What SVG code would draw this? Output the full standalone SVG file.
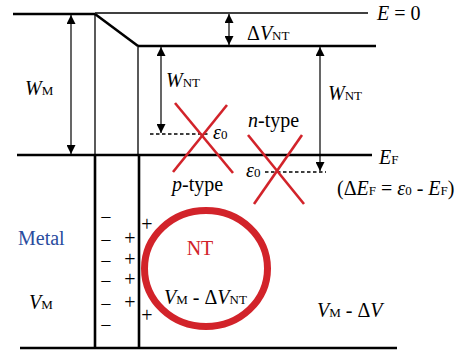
<svg xmlns="http://www.w3.org/2000/svg" width="468" height="353" viewBox="0 0 468 353">
<defs>
<marker id="ahL" viewBox="0 0 10 10" refX="10" refY="5" markerWidth="12" markerHeight="9" markerUnits="userSpaceOnUse" orient="auto-start-reverse">
<path d="M0,0 L10,5 L0,10 Z" fill="#000"/>
</marker>
<style>
.thick{stroke:#000;stroke-width:2.6;fill:none}
.thin{stroke:#000;stroke-width:1.3;fill:none}
.dash{stroke:#000;stroke-width:1.3;stroke-dasharray:3.5,2.5;fill:none}
.arr{stroke:#000;stroke-width:1.2;fill:none;marker-start:url(#ahL);marker-end:url(#ahL)}
.red{stroke:#d2232a;stroke-width:2.6;fill:none}
.t{font-size:20px;fill:#000}
.i{font-style:italic}
.s{font-size:13px}
.sign{font-size:20px;fill:#000}
</style>
</defs>
<g id="lines">
<line class="thick" x1="13" y1="14" x2="95" y2="14"/>
<line class="thin" x1="95" y1="13" x2="368" y2="13"/>
<line class="thick" x1="95" y1="14" x2="138" y2="46"/>
<line class="thick" x1="138" y1="46" x2="376" y2="46"/>
<line class="thin" x1="95" y1="14" x2="95" y2="155"/>
<line class="thin" x1="138" y1="46" x2="138" y2="155"/>
<line class="thick" x1="95" y1="155" x2="95" y2="348"/>
<line class="thick" x1="139" y1="155" x2="139" y2="348"/>
<line class="thick" x1="17" y1="155" x2="372" y2="155"/>
<line class="thick" x1="20" y1="348" x2="397" y2="348"/>
<line class="dash" x1="150" y1="134" x2="210" y2="134"/>
<line class="dash" x1="265" y1="172" x2="326" y2="172"/>
</g>
<g id="connectors">
<line class="arr" x1="71" y1="15" x2="71" y2="154"/>
<line class="arr" x1="161" y1="47" x2="161" y2="133"/>
<line class="arr" x1="229" y1="14" x2="229" y2="45"/>
<line class="arr" x1="320" y1="47" x2="320" y2="171"/>
</g>
<g id="crosses">
<line class="red" x1="175" y1="103" x2="233" y2="173"/>
<line class="red" x1="227" y1="105" x2="173" y2="172"/>
<line class="red" x1="248" y1="135" x2="304" y2="204"/>
<line class="red" x1="302" y1="135" x2="254" y2="204"/>
</g>
<g font-family="Liberation Serif, Times New Roman, serif">
<g id="nt">
<ellipse cx="206" cy="268.5" rx="61.5" ry="58" stroke="#d2232a" stroke-width="7" fill="none"/>
<text class="t" x="200" y="255" text-anchor="middle" style="fill:#d2232a">NT</text>
<text class="t" x="164" y="304"><tspan class="i">V</tspan><tspan class="s">M</tspan> - Δ<tspan class="i">V</tspan><tspan class="s">NT</tspan></text>
</g>
<g id="labels">
<text class="t" x="377" y="20"><tspan class="i">E</tspan> = 0</text>
<text class="t" x="247" y="40">Δ<tspan class="i">V</tspan><tspan class="s">NT</tspan></text>
<text class="t" x="25" y="95"><tspan class="i">W</tspan><tspan class="s">M</tspan></text>
<text class="t" x="166" y="87"><tspan class="i">W</tspan><tspan class="s">NT</tspan></text>
<text class="t" x="328" y="100"><tspan class="i">W</tspan><tspan class="s">NT</tspan></text>
<text class="t" x="379" y="164"><tspan class="i">E</tspan><tspan class="s">F</tspan></text>
<text class="t" x="248" y="127"><tspan class="i">n</tspan>-type</text>
<text class="t" x="172" y="191"><tspan class="i">p</tspan>-type</text>
<text class="t" x="213" y="139"><tspan class="i">ε</tspan><tspan class="s">0</tspan></text>
<text class="t" x="246" y="177"><tspan class="i">ε</tspan><tspan class="s">0</tspan></text>
<text class="t" x="337" y="195">(Δ<tspan class="i">E</tspan><tspan class="s">F</tspan> = <tspan class="i">ε</tspan><tspan class="s">0</tspan> - <tspan class="i">E</tspan><tspan class="s">F</tspan>)</text>
<text class="t" x="18" y="245" style="fill:#2a4c9e">Metal</text>
<text class="t" x="29" y="309"><tspan class="i">V</tspan><tspan class="s">M</tspan></text>
<text class="t" x="317" y="317"><tspan class="i">V</tspan><tspan class="s">M</tspan> - Δ<tspan class="i">V</tspan></text>
</g>
<g id="charges" text-anchor="middle">
<text class="sign" x="106" y="224">−</text>
<text class="sign" x="106" y="247">−</text>
<text class="sign" x="106" y="268">−</text>
<text class="sign" x="106" y="288">−</text>
<text class="sign" x="106" y="311">−</text>
<text class="sign" x="106" y="332">−</text>
<text class="sign" x="130" y="245">+</text>
<text class="sign" x="130" y="266">+</text>
<text class="sign" x="130" y="286">+</text>
<text class="sign" x="130" y="309">+</text>
<text class="sign" x="147" y="231">+</text>
<text class="sign" x="147" y="322">+</text>
</g>
</g>
</svg>
